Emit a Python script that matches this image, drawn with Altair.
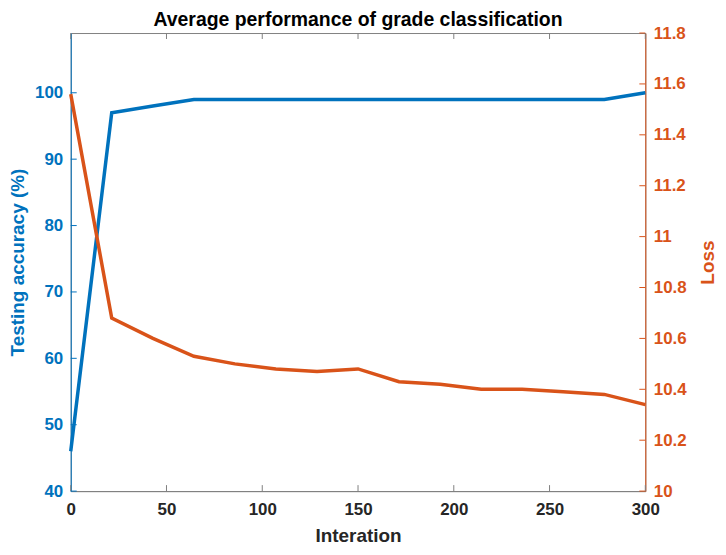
import altair as alt
import pandas as pd

iterations = [0, 21.4, 42.9, 64.3, 85.7, 107.1, 128.6, 150, 171.4, 192.9, 214.3, 235.7, 257.1, 278.6, 300]
accuracy = [46, 97, 98, 99, 99, 99, 99, 99, 99, 99, 99, 99, 99, 99, 100]
loss = [11.56, 10.68, 10.60, 10.53, 10.50, 10.48, 10.47, 10.48, 10.43, 10.42, 10.40, 10.40, 10.39, 10.38, 10.34]

x_ticks = [0, 50, 100, 150, 200, 250, 300]
acc_ticks = [40, 50, 60, 70, 80, 90, 100]
loss_ticks = [10, 10.2, 10.4, 10.6, 10.8, 11, 11.2, 11.4, 11.6, 11.8]

W, H = 577, 460
FONT = "Liberation Sans, Arial, Helvetica, sans-serif"
BLUE = "#0072BD"
ORANGE = "#D95319"
GREY = "#808080"
DARK = "#262626"

df = pd.DataFrame({"x": iterations, "acc": accuracy, "loss": loss})
xt = pd.DataFrame({"x": x_ticks})
at = pd.DataFrame({"acc": acc_ticks})
lt = pd.DataFrame({"loss": loss_ticks})

xs = alt.Scale(domain=[0, 300], nice=False, zero=False)
ys_acc = alt.Scale(domain=[40, 109], nice=False, zero=False)
ys_loss = alt.Scale(domain=[10, 11.8], nice=False, zero=False)

xaxis = alt.Axis(values=x_ticks, title="Interation", ticks=False, grid=False,
                 domainColor=GREY, labelColor=DARK, labelFontSize=17, labelFontWeight="bold",
                 titleFontSize=19, titleFontWeight="bold", titleColor=DARK,
                 labelPadding=11, titlePadding=9, labelFlush=False, labelFont=FONT, titleFont=FONT)
acc_axis = alt.Axis(values=acc_ticks, title="Testing accuracy (%)", ticks=False, grid=False,
                    orient="left", domainColor=BLUE, labelColor=BLUE, labelFontSize=17,
                    labelFontWeight="bold", titleFontSize=19, titleFontWeight="bold",
                    titleColor=BLUE, labelPadding=8, titlePadding=7, labelFont=FONT, titleFont=FONT)
loss_axis = alt.Axis(values=loss_ticks, title="Loss", ticks=False, grid=False, format="~g",
                     orient="right", domainColor=ORANGE, labelColor=ORANGE, labelFontSize=17,
                     labelFontWeight="bold", titleFontSize=19, titleFontWeight="bold",
                     titleColor=ORANGE, labelPadding=8, titlePadding=12, titleAngle=270,
                     titleBaseline="top", labelFont=FONT, titleFont=FONT)

X = alt.X("x:Q", scale=xs, axis=xaxis)

blue_line = alt.Chart(df).mark_line(color=BLUE, strokeWidth=3.5).encode(
    x=X, y=alt.Y("acc:Q", scale=ys_acc, axis=acc_axis))
acc_tick_marks = alt.Chart(at).mark_rule(color=BLUE, strokeWidth=1).encode(
    y=alt.Y("acc:Q", scale=ys_acc, axis=acc_axis), x=alt.value(0), x2=alt.value(6))
bottom_ticks = alt.Chart(xt).mark_rule(color=GREY, strokeWidth=1).encode(
    x=X, y=alt.value(H), y2=alt.value(H - 6))
top_ticks = alt.Chart(xt).mark_rule(color=GREY, strokeWidth=1).encode(
    x=X, y=alt.value(0), y2=alt.value(6))

left_group = alt.layer(bottom_ticks, top_ticks, acc_tick_marks, blue_line)

orange_line = alt.Chart(df).mark_line(color=ORANGE, strokeWidth=3.5).encode(
    x=X, y=alt.Y("loss:Q", scale=ys_loss, axis=loss_axis))
loss_tick_marks = alt.Chart(lt).mark_rule(color=ORANGE, strokeWidth=1).encode(
    y=alt.Y("loss:Q", scale=ys_loss, axis=loss_axis), x=alt.value(W), x2=alt.value(W - 6))

right_group = alt.layer(loss_tick_marks, orange_line)

chart = alt.layer(left_group, right_group).resolve_scale(y="independent").properties(
    width=W, height=H, padding=0, background="white",
    title=alt.Title("Average performance of grade classification", fontSize=19.5,
                    fontWeight="bold", color="#000000", font=FONT, offset=-6,
                    anchor="middle", frame="group"),
).configure_view(stroke=GREY, strokeWidth=1)

chart.save("out.html", embed_options={"renderer": "svg", "actions": False})
